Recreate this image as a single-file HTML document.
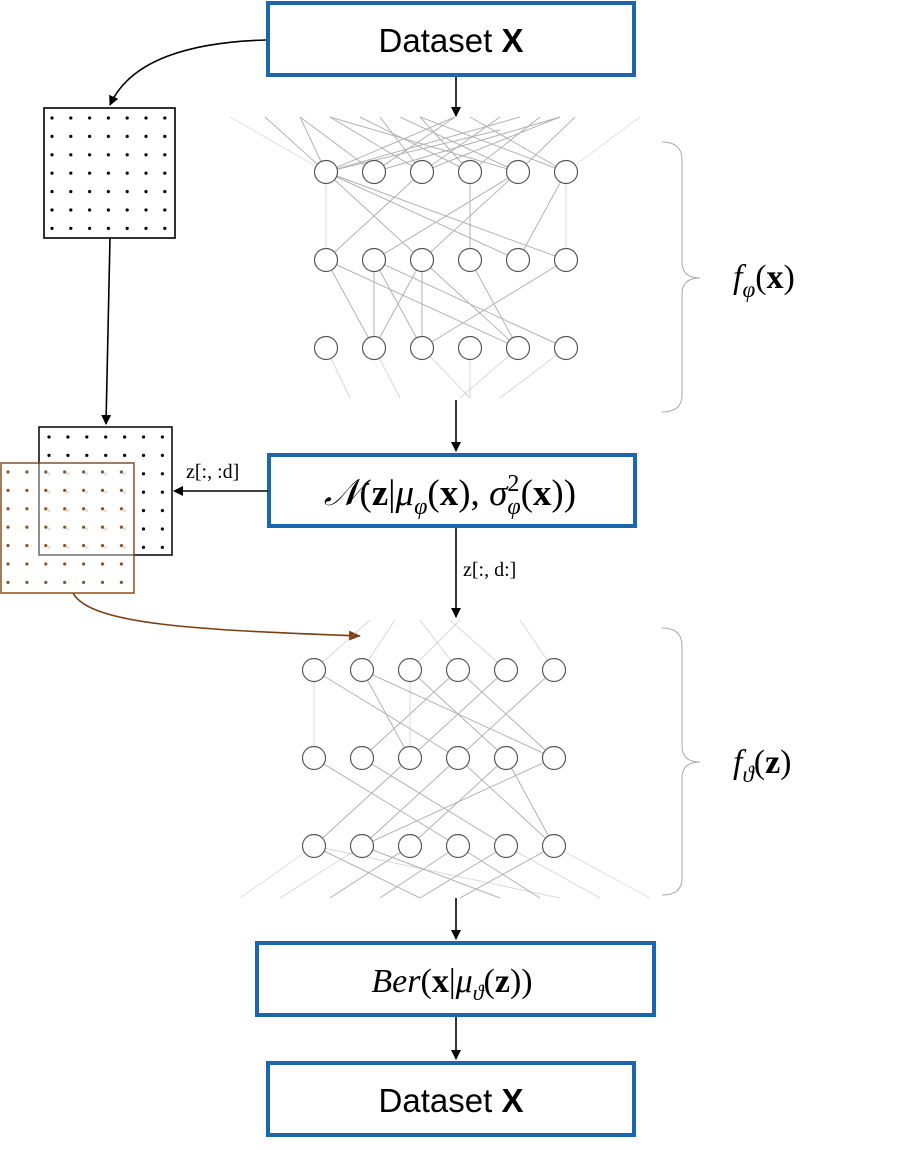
<!DOCTYPE html>
<html><head><meta charset="utf-8"><style>
html,body{margin:0;padding:0;background:#fff;}
svg{display:block}
text{font-family:"Liberation Serif","DejaVu Serif",serif;}
</style></head><body>
<svg width="915" height="1150" viewBox="0 0 915 1150" xmlns="http://www.w3.org/2000/svg">
<defs>
<marker id="ah" markerWidth="10" markerHeight="10" refX="9" refY="5" orient="auto" markerUnits="userSpaceOnUse"><path d="M0,0 L10,5 L0,10 z" fill="#000"/></marker>
<marker id="ahb" markerWidth="12" markerHeight="10" refX="11" refY="5" orient="auto" markerUnits="userSpaceOnUse"><path d="M0,0 L12,5 L0,10 z" fill="#7a3f12"/></marker>
<pattern id="dk" x="49" y="115" width="18.8" height="18.4" patternUnits="userSpaceOnUse"><circle cx="3" cy="3" r="1.6" fill="#000"/></pattern>
<pattern id="dk2" x="46" y="434" width="18.9" height="18.4" patternUnits="userSpaceOnUse"><circle cx="3" cy="3" r="1.6" fill="#000"/></pattern>
<pattern id="db" x="5" y="469" width="18.9" height="18.4" patternUnits="userSpaceOnUse"><circle cx="3" cy="3" r="1.6" fill="#8a5020"/></pattern>
</defs>

<rect x="268" y="3" width="366" height="72" fill="#fff" stroke="#1a67b0" stroke-width="4"/>
<text x="451" y="52" text-anchor="middle" font-size="33" style="font-family:'Liberation Sans',sans-serif">Dataset <tspan font-weight="bold">X</tspan></text>

<rect x="269" y="455" width="366" height="71" fill="#fff" stroke="#1a67b0" stroke-width="4"/>
<text x="450" y="505" text-anchor="middle" font-size="37"><tspan font-style="italic">𝒩</tspan>(<tspan font-weight="bold">z</tspan>|<tspan font-style="italic">μ</tspan><tspan font-size="24" font-style="italic" dy="9">φ</tspan><tspan dy="-9">(</tspan><tspan font-weight="bold">x</tspan>), <tspan font-style="italic">σ</tspan><tspan font-size="24" dy="-14">2</tspan><tspan font-size="24" font-style="italic" dx="-12" dy="23">φ</tspan><tspan dy="-9">(</tspan><tspan font-weight="bold">x</tspan>))</text>

<rect x="257" y="943" width="397" height="72" fill="#fff" stroke="#1a67b0" stroke-width="4"/>
<text x="452" y="992" text-anchor="middle" font-size="34"><tspan font-style="italic">Ber</tspan>(<tspan font-weight="bold">x</tspan>|<tspan font-style="italic">μ</tspan><tspan font-size="22" font-style="italic" dy="8">ϑ</tspan><tspan dy="-8">(</tspan><tspan font-weight="bold">z</tspan>))</text>

<rect x="268" y="1063" width="366" height="72" fill="#fff" stroke="#1a67b0" stroke-width="4"/>
<text x="451" y="1112" text-anchor="middle" font-size="33" style="font-family:'Liberation Sans',sans-serif">Dataset <tspan font-weight="bold">X</tspan></text>

<g stroke="#000" stroke-width="1.6" fill="none">
<line x1="456" y1="77" x2="456" y2="116" marker-end="url(#ah)"/>
<line x1="456" y1="400" x2="456" y2="451" marker-end="url(#ah)"/>
<line x1="456" y1="528" x2="456" y2="617" marker-end="url(#ah)"/>
<line x1="456" y1="898" x2="456" y2="939" marker-end="url(#ah)"/>
<line x1="456" y1="1017" x2="456" y2="1059" marker-end="url(#ah)"/>
<line x1="268" y1="491" x2="174" y2="491" marker-end="url(#ah)"/>
<path d="M266,40 C190,42 130,60 110,105" marker-end="url(#ah)"/>
<line x1="110" y1="238" x2="106" y2="424" marker-end="url(#ah)"/>
</g>
<path d="M73,593 C90,625 200,630 360,636" stroke="#7a3f12" stroke-width="1.6" fill="none" marker-end="url(#ahb)"/>

<text x="186" y="478" font-size="20">z[:, :d]</text>
<text x="463" y="576" font-size="20">z[:, d:]</text>

<rect x="44" y="108" width="131" height="130" fill="url(#dk)" stroke="#000" stroke-width="1.6"/>
<rect x="39" y="427" width="133" height="128" fill="url(#dk2)" stroke="#000" stroke-width="1.5"/>
<rect x="1" y="463" width="133" height="130" fill="rgba(255,255,255,0.88)" stroke="#8a5020" stroke-width="1.5"/>
<rect x="1" y="463" width="133" height="130" fill="url(#db)"/>
<path d="M39,463 V555 H134" stroke="#000" stroke-width="1.3" fill="none" opacity="0.6"/>

<g stroke="#999" stroke-width="1" opacity="0.75">
<line x1="230" y1="117" x2="326" y2="172" opacity="0.4"/><line x1="265" y1="117" x2="326" y2="172"/>
<line x1="300" y1="117" x2="326" y2="172"/><line x1="330" y1="117" x2="422" y2="172"/>
<line x1="326" y1="172" x2="455" y2="117"/><line x1="326" y1="172" x2="520" y2="117"/>
<line x1="374" y1="172" x2="455" y2="117"/><line x1="374" y1="172" x2="560" y2="117"/>
<line x1="422" y1="172" x2="380" y2="117"/><line x1="422" y1="172" x2="500" y2="117"/>
<line x1="470" y1="172" x2="360" y2="117"/><line x1="470" y1="172" x2="540" y2="117"/>
<line x1="518" y1="172" x2="400" y2="117"/><line x1="518" y1="172" x2="575" y2="117"/>
<line x1="566" y1="172" x2="420" y2="117"/><line x1="566" y1="172" x2="470" y2="117"/>
<line x1="566" y1="172" x2="640" y2="117" opacity="0.4"/><line x1="326" y1="172" x2="500" y2="130"/>
<line x1="374" y1="172" x2="300" y2="117"/><line x1="422" y1="172" x2="560" y2="117"/>
<line x1="470" y1="172" x2="420" y2="117"/><line x1="518" y1="172" x2="330" y2="117"/>
<line x1="326" y1="172" x2="422" y2="260"/><line x1="326" y1="172" x2="518" y2="260"/>
<line x1="326" y1="172" x2="566" y2="260"/><line x1="422" y1="172" x2="326" y2="260"/>
<line x1="518" y1="172" x2="374" y2="260"/><line x1="518" y1="172" x2="422" y2="260"/>
<line x1="470" y1="172" x2="470" y2="260"/><line x1="566" y1="172" x2="518" y2="260"/>
<line x1="326" y1="172" x2="326" y2="260" opacity="0.5"/><line x1="566" y1="172" x2="566" y2="260" opacity="0.5"/>
<line x1="326" y1="260" x2="518" y2="348"/><line x1="326" y1="260" x2="374" y2="348"/>
<line x1="374" y1="260" x2="374" y2="348"/><line x1="374" y1="260" x2="422" y2="348"/>
<line x1="422" y1="260" x2="374" y2="348"/><line x1="422" y1="260" x2="422" y2="348"/>
<line x1="374" y1="260" x2="566" y2="348"/><line x1="470" y1="260" x2="518" y2="348"/>
<line x1="566" y1="260" x2="422" y2="348"/><line x1="422" y1="260" x2="518" y2="348"/>
<line x1="326" y1="348" x2="350" y2="398" opacity="0.5"/><line x1="374" y1="348" x2="400" y2="398" opacity="0.5"/>
<line x1="422" y1="348" x2="470" y2="398" opacity="0.5"/><line x1="518" y1="348" x2="460" y2="398" opacity="0.5"/>
<line x1="566" y1="348" x2="500" y2="398" opacity="0.5"/><line x1="470" y1="348" x2="470" y2="398" opacity="0.5"/>
</g>
<g fill="#fff" stroke="#555" stroke-width="1.2">
<circle cx="326" cy="172" r="11.5"/><circle cx="374" cy="172" r="11.5"/><circle cx="422" cy="172" r="11.5"/><circle cx="470" cy="172" r="11.5"/><circle cx="518" cy="172" r="11.5"/><circle cx="566" cy="172" r="11.5"/>
<circle cx="326" cy="260" r="11.5"/><circle cx="374" cy="260" r="11.5"/><circle cx="422" cy="260" r="11.5"/><circle cx="470" cy="260" r="11.5"/><circle cx="518" cy="260" r="11.5"/><circle cx="566" cy="260" r="11.5"/>
<circle cx="326" cy="348" r="11.5"/><circle cx="374" cy="348" r="11.5"/><circle cx="422" cy="348" r="11.5"/><circle cx="470" cy="348" r="11.5"/><circle cx="518" cy="348" r="11.5"/><circle cx="566" cy="348" r="11.5"/>
</g>

<g stroke="#999" stroke-width="1" opacity="0.75">
<line x1="314" y1="670" x2="370" y2="620" opacity="0.5"/><line x1="362" y1="670" x2="395" y2="620" opacity="0.5"/>
<line x1="410" y1="670" x2="460" y2="620" opacity="0.5"/><line x1="458" y1="670" x2="420" y2="620" opacity="0.5"/>
<line x1="506" y1="670" x2="450" y2="620" opacity="0.5"/><line x1="554" y1="670" x2="520" y2="620" opacity="0.5"/>
<line x1="314" y1="670" x2="458" y2="758"/><line x1="362" y1="670" x2="554" y2="758"/>
<line x1="362" y1="670" x2="410" y2="758"/><line x1="410" y1="670" x2="506" y2="758"/>
<line x1="458" y1="670" x2="362" y2="758"/><line x1="506" y1="670" x2="410" y2="758"/>
<line x1="554" y1="670" x2="458" y2="758"/><line x1="458" y1="670" x2="554" y2="758"/>
<line x1="314" y1="670" x2="314" y2="758" opacity="0.5"/><line x1="410" y1="670" x2="410" y2="758" opacity="0.5"/>
<line x1="314" y1="758" x2="458" y2="846"/><line x1="362" y1="758" x2="506" y2="846"/>
<line x1="410" y1="758" x2="314" y2="846"/><line x1="458" y1="758" x2="362" y2="846"/>
<line x1="506" y1="758" x2="410" y2="846"/><line x1="554" y1="758" x2="362" y2="846"/>
<line x1="458" y1="758" x2="554" y2="846"/><line x1="506" y1="758" x2="554" y2="846"/>
<line x1="314" y1="846" x2="240" y2="898" opacity="0.4"/><line x1="314" y1="846" x2="420" y2="898"/>
<line x1="362" y1="846" x2="500" y2="898"/><line x1="410" y1="846" x2="330" y2="898"/>
<line x1="458" y1="846" x2="380" y2="898"/><line x1="458" y1="846" x2="540" y2="898"/>
<line x1="506" y1="846" x2="420" y2="898"/><line x1="554" y1="846" x2="460" y2="898"/>
<line x1="554" y1="846" x2="650" y2="898" opacity="0.4"/><line x1="314" y1="846" x2="560" y2="898" opacity="0.5"/>
<line x1="362" y1="846" x2="280" y2="898" opacity="0.5"/><line x1="506" y1="846" x2="600" y2="898" opacity="0.5"/>
</g>
<g fill="#fff" stroke="#555" stroke-width="1.2">
<circle cx="314" cy="670" r="11.5"/><circle cx="362" cy="670" r="11.5"/><circle cx="410" cy="670" r="11.5"/><circle cx="458" cy="670" r="11.5"/><circle cx="506" cy="670" r="11.5"/><circle cx="554" cy="670" r="11.5"/>
<circle cx="314" cy="758" r="11.5"/><circle cx="362" cy="758" r="11.5"/><circle cx="410" cy="758" r="11.5"/><circle cx="458" cy="758" r="11.5"/><circle cx="506" cy="758" r="11.5"/><circle cx="554" cy="758" r="11.5"/>
<circle cx="314" cy="846" r="11.5"/><circle cx="362" cy="846" r="11.5"/><circle cx="410" cy="846" r="11.5"/><circle cx="458" cy="846" r="11.5"/><circle cx="506" cy="846" r="11.5"/><circle cx="554" cy="846" r="11.5"/>
</g>

<g stroke="#aaa" stroke-width="1" fill="none">
<path d="M662,142 Q682,142 682,160 L682,262 Q682,278 700,278 Q682,278 682,294 L682,395 Q682,412 662,412"/>
<path d="M662,628 Q682,628 682,646 L682,746 Q682,762 700,762 Q682,762 682,778 L682,878 Q682,895 662,895"/>
</g>
<text x="733" y="288" font-size="34"><tspan font-style="italic">f</tspan><tspan font-size="23" font-style="italic" dy="9">φ</tspan><tspan dy="-9">(</tspan><tspan font-weight="bold">x</tspan>)</text>
<text x="733" y="773" font-size="34"><tspan font-style="italic">f</tspan><tspan font-size="23" font-style="italic" dy="9">ϑ</tspan><tspan dy="-9">(</tspan><tspan font-weight="bold">z</tspan>)</text>
</svg>
</body></html>
